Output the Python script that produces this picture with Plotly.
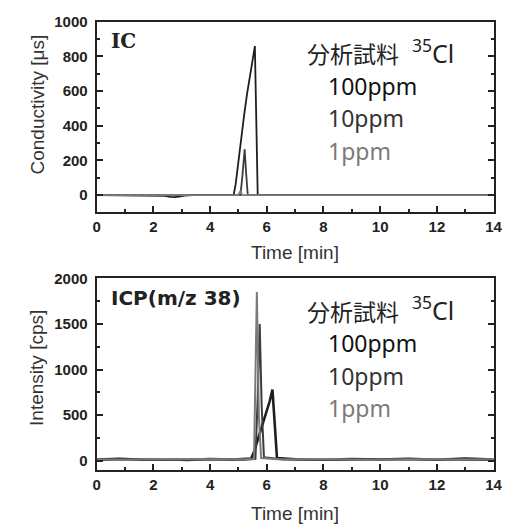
import plotly.graph_objects as go

# IC chromatograms (conductivity, µS) for the three sample concentrations
ic_time_100 = [0, 2.2, 2.4, 2.6, 2.75, 2.9, 3.1, 3.4, 4.83, 4.9, 5.0, 5.1, 5.2, 5.3, 5.4, 5.5, 5.58, 5.63, 5.68, 14]
ic_cond_100 = [0, 0, -4, -10, -12, -8, -3, 0, 0, 60, 200, 330, 460, 580, 690, 790, 860, 430, 0, 0]
ic_time_10 = [0, 5.07, 5.14, 5.22, 5.27, 5.33, 14]
ic_cond_10 = [0, 0, 110, 265, 130, 0, 0]
ic_time_1 = [0, 5.0, 5.07, 5.13, 14]
ic_cond_1 = [0, 0, 25, 0, 0]

# ICP-MS chromatograms (m/z 38, cps)
icp_time_100 = [0, 0.8, 1.6, 2.4, 3.2, 4.0, 4.8, 5.45, 5.55, 5.65, 5.8, 5.95, 6.1, 6.2, 6.28, 6.36, 7.0, 8.0, 9.0, 10.0, 11.0, 12.0, 13.0, 14]
icp_cps_100 = [15, 22, 12, 18, 10, 20, 14, 25, 100, 200, 330, 480, 650, 780, 350, 30, 18, 12, 20, 14, 22, 12, 25, 15]
icp_time_10 = [0, 1.2, 2.6, 4.0, 5.2, 5.6, 5.68, 5.75, 5.82, 5.9, 6.6, 8.2, 9.8, 11.4, 14]
icp_cps_10 = [10, 18, 8, 16, 12, 20, 700, 1500, 600, 40, 14, 10, 18, 12, 10]
icp_time_1 = [0, 1.0, 2.2, 3.6, 5.0, 5.55, 5.6, 5.65, 5.72, 5.8, 6.5, 8.0, 9.6, 11.2, 12.8, 14]
icp_cps_1 = [18, 12, 20, 14, 16, 20, 800, 1850, 500, 30, 15, 20, 12, 18, 14, 16]

# axis tick values
time_ticks = [0, 2, 4, 6, 8, 10, 12, 14]
ic_ticks = [0, 200, 400, 600, 800, 1000]
icp_ticks = [0, 500, 1000, 1500, 2000]

labels = ["100ppm", "10ppm", "1ppm"]
line_colors = ["#1e1e1e", "#3c3c3c", "#7a7a7a"]
icp_widths = [2.6, 2.0, 2.0]
text_colors = ["#111111", "#333333", "#7a7a7a"]

fig = go.Figure()

ic_series = [(ic_time_100, ic_cond_100), (ic_time_10, ic_cond_10), (ic_time_1, ic_cond_1)]
icp_series = [(icp_time_100, icp_cps_100), (icp_time_10, icp_cps_10), (icp_time_1, icp_cps_1)]

for (t, v), name, col in zip(ic_series, labels, line_colors):
    fig.add_trace(go.Scatter(x=t, y=v, mode="lines", name=name,
                             line=dict(color=col, width=1.8), xaxis="x", yaxis="y",
                             showlegend=False))
for (t, v), name, col, w in zip(icp_series, labels, line_colors, icp_widths):
    fig.add_trace(go.Scatter(x=t, y=v, mode="lines", name=name,
                             line=dict(color=col, width=w), xaxis="x2", yaxis="y2",
                             showlegend=False))

W, H = 527, 525
x0, x1 = 95 / W, 502 / W
top_dom = [1 - 207 / H, 1 - 13 / H]
bot_dom = [1 - 469 / H, 1 - 274 / H]

tick_font = dict(family="Liberation Sans, Arial, sans-serif", size=15, color="#222")
title_font = dict(family="Liberation Sans, Arial, sans-serif", size=19, color="#333")

def bold(vals):
    return [f"<b>{v}</b>" for v in vals]

def xaxis_cfg(anchor):
    return dict(domain=[x0, x1], anchor=anchor, range=[0, 14],
                tickmode="array", tickvals=time_ticks, ticktext=bold(time_ticks),
                ticks="inside", ticklen=6, tickwidth=1.5, tickcolor="#222",
                minor=dict(dtick=1, tick0=0, ticks="inside", ticklen=3, tickwidth=1.5, tickcolor="#222"),
                showline=True, linecolor="#222", linewidth=2, mirror=True,
                showgrid=False, zeroline=False, tickfont=tick_font)

def yaxis_cfg(anchor, domain, rng, tickvals, minor):
    return dict(domain=domain, anchor=anchor, range=rng,
                tickmode="array", tickvals=tickvals, ticktext=bold(tickvals),
                ticks="inside", ticklen=6, tickwidth=1.5, tickcolor="#222",
                minor=dict(dtick=minor, tick0=0, ticks="inside", ticklen=3, tickwidth=1.5, tickcolor="#222"),
                showline=True, linecolor="#222", linewidth=2, mirror="ticks",
                showgrid=False, zeroline=False, tickfont=tick_font, ticklabelstandoff=4)

fig.update_layout(
    width=W, height=H,
    margin=dict(l=0, r=0, t=0, b=0),
    paper_bgcolor="white", plot_bgcolor="white",
    xaxis=xaxis_cfg("y"),
    yaxis=yaxis_cfg("x", top_dom, [-100, 1000], ic_ticks, 100),
    xaxis2=xaxis_cfg("y2"),
    yaxis2=yaxis_cfg("x2", bot_dom, [-100, 2000], icp_ticks, 250),
)

def px(x):
    return x / W

def py(y):
    return 1 - y / H

jp_font = "Noto Sans CJK JP"
annots = []

# axis titles
annots.append(dict(text="Time [min]", x=px(298), y=py(248), xanchor="center", yanchor="middle", font=title_font))
annots.append(dict(text="Time [min]", x=px(298), y=py(513), xanchor="center", yanchor="middle", font=title_font))
annots.append(dict(text="Conductivity [μs]", x=px(34), y=py(97), xanchor="center", yanchor="middle",
                   textangle=-90, font=title_font))
annots.append(dict(text="Intensity [cps]", x=px(34), y=py(365), xanchor="center", yanchor="middle",
                   textangle=-90, font=title_font))

# panel headings
annots.append(dict(text="<b>IC</b>", x=px(108), y=py(33), xanchor="left", yanchor="middle",
                   font=dict(family="DejaVu Serif, serif", size=20, color="#222")))
annots.append(dict(text="<b>ICP(m/z 38)</b>", x=px(108), y=py(294), xanchor="left", yanchor="middle",
                   font=dict(family="DejaVu Sans, sans-serif", size=20, color="#222")))

# sample list in each panel
for head_y, rows_y in [(45, [78, 111, 144]), (307, [340, 373, 406])]:
    annots.append(dict(text="分析試料", x=px(309), y=py(head_y), xanchor="left", yanchor="middle",
                       font=dict(family=jp_font, size=23, color="#222")))
    annots.append(dict(text="<sup>35</sup>Cl", x=px(416), y=py(head_y - 2), xanchor="left", yanchor="middle",
                       font=dict(family="Noto Sans, sans-serif", size=25, color="#222")))
    for lab, col, yy in zip(labels, text_colors, rows_y):
        annots.append(dict(text=lab, x=px(330), y=py(yy), xanchor="left", yanchor="middle",
                           font=dict(family="Noto Sans, sans-serif", size=23, color=col)))

for a in annots:
    a.update(xref="paper", yref="paper", showarrow=False)
fig.update_layout(annotations=annots)

fig.write_html("out.html")
